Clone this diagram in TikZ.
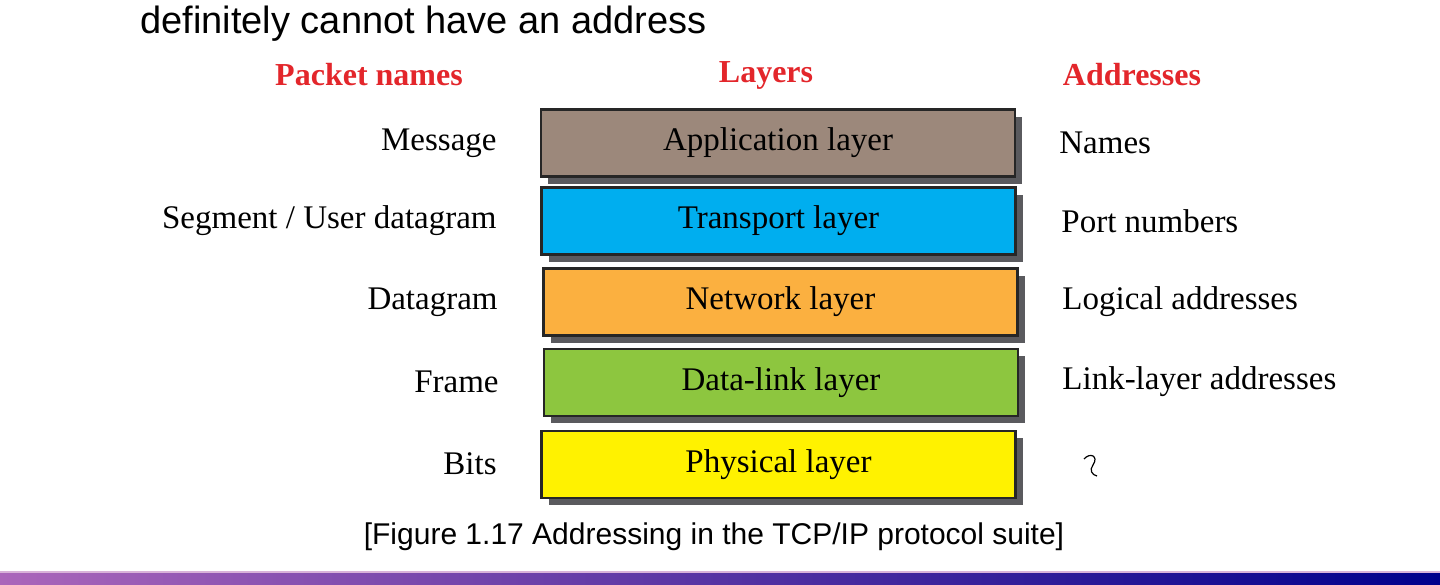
\documentclass[tikz,border=0pt]{standalone}
\usepackage{fontspec}
\setmainfont{Liberation Serif}
\newfontfamily\arialf{Liberation Sans}
\begin{document}
\begin{tikzpicture}[x=0.5pt,y=-0.5pt]
\definecolor{appc}{HTML}{9C887B}
\definecolor{trc}{HTML}{00AEEF}
\definecolor{netc}{HTML}{FBB040}
\definecolor{dlc}{HTML}{8DC63F}
\definecolor{phc}{HTML}{FFF200}
\definecolor{shc}{HTML}{5A5A5E}
\definecolor{hred}{HTML}{E3262B}
\tikzset{
 layerbox/.style={draw=black!85,line width=1.2pt,minimum width=237pt,minimum height=33.5pt,inner sep=0pt,font=\fontsize{16.5}{18}\selectfont,
   preaction={fill=shc,transform canvas={xshift=3.5pt,yshift=-3.5pt}}},
 lbl/.style={font=\fontsize{16.5}{18}\selectfont,inner sep=0pt},
 hdr/.style={font=\fontsize{16}{18}\selectfont\bfseries,text=hred,inner sep=0pt}
}
\useasboundingbox (0,0) rectangle (1440,584);
\fill[white] (0,0) rectangle (1440,584);
\node[anchor=west,font=\arialf\fontsize{19}{22}\selectfont,inner sep=0pt] (title) at (140,24) {definitely cannot have an address};
\node[hdr] (h1) at (369,75) {Packet names};
\node[hdr] (h2) at (766,75) {Layers};
\node[hdr] (h3) at (1132,75) {Addresses};
\node[layerbox,fill=appc] (app) at (778,143) {Application layer};
\node[layerbox,fill=trc] (tr) at (778.5,221) {Transport layer};
\node[layerbox,fill=netc] (net) at (780.5,302) {Network layer};
\node[layerbox,fill=dlc] (dl) at (781,382.5) {Data-link layer};
\node[layerbox,fill=phc] (ph) at (778.5,464.5) {Physical layer};
\node[lbl,anchor=east] (m) at (497,143) {Message};
\node[lbl,anchor=east] (s) at (497,221) {Segment / User datagram};
\node[lbl,anchor=east] (d) at (498,302) {Datagram};
\node[lbl,anchor=east] (f) at (499,382) {Frame};
\node[lbl,anchor=east] (b) at (497,464) {Bits};
\node[lbl,anchor=west] (n) at (1059,143) {Names};
\node[lbl,anchor=west] (p) at (1061,221) {Port numbers};
\node[lbl,anchor=west] (la) at (1062,302) {Logical addresses};
\node[lbl,anchor=west] (ll) at (1062,382) {Link-layer addresses};
\draw[line width=0.6pt] (1084,459) .. controls (1090,452) and (1099,456) .. (1093,465) .. controls (1089,470) and (1092,475) .. (1097,476);
\node[anchor=center,font=\arialf\fontsize{15}{18}\selectfont,inner sep=0pt] (cap) at (714,537) {[Figure 1.17 Addressing in the TCP/IP protocol suite]};
\shade[left color=blue!40!purple!60!white,right color=blue!55!black] (0,573) rectangle (1440,584);
\fill[violet!30] (0,571) rectangle (1440,573);
\end{tikzpicture}
\end{document}
